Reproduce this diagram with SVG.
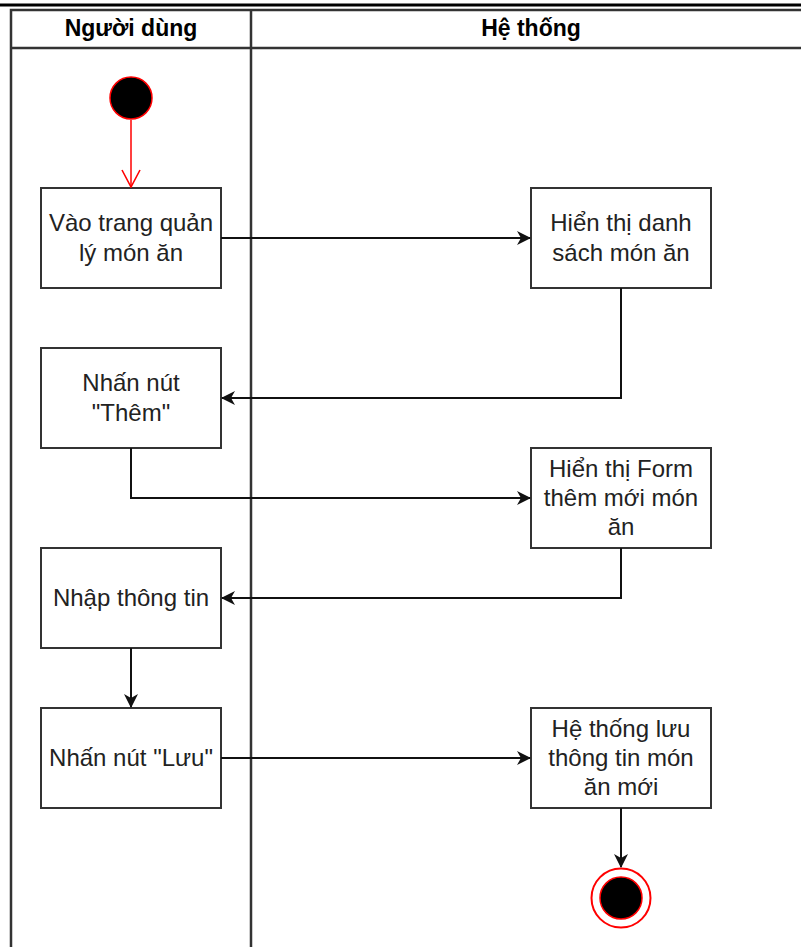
<svg xmlns="http://www.w3.org/2000/svg" width="801" height="947" viewBox="0 0 801 947">
<defs>
<style>
.lane{fill:none;stroke:#333;stroke-width:2.5}
.hdr{font-family:"Liberation Sans",Arial,sans-serif;font-size:23px;font-weight:bold;fill:#000;text-anchor:middle}
.box{fill:#fff;stroke:#333;stroke-width:2}
.lbl{font-family:"Liberation Sans",Arial,sans-serif;font-size:24px;fill:#222;text-anchor:middle}
.edge{fill:none;stroke:#111;stroke-width:2}
</style>
<marker id="arr" viewBox="0 0 14 14" refX="13" refY="7" markerWidth="14" markerHeight="14" markerUnits="userSpaceOnUse" orient="auto">
<path d="M0,0 L14,7 L0,14 L4,7 Z" fill="#111"/>
</marker>
<marker id="open" viewBox="0 0 20 20" refX="19" refY="10" markerWidth="20" markerHeight="20" markerUnits="userSpaceOnUse" orient="auto">
<path d="M2,1 L19,10 L2,19" fill="none" stroke="#f00" stroke-width="1.6"/>
</marker>
</defs>
<rect width="801" height="947" fill="#fff"/>
<line x1="0" y1="5" x2="801" y2="5" stroke="#000" stroke-width="3"/>
<g id="swimlanes">
<path class="lane" d="M801,10 H11 V947 M11,48 H801 M251,10 V947"/>
<text class="hdr" x="131" y="36">Người dùng</text>
<text class="hdr" x="531" y="36">Hệ thống</text>
</g>
<g id="start">
<circle cx="131" cy="98" r="21" fill="#000" stroke="#f00" stroke-width="1.5"/>
</g>
<g id="n1">
<rect class="box" x="41" y="188" width="180" height="100"/>
<text class="lbl" x="131" y="231">Vào trang quản</text>
<text class="lbl" x="131" y="261">lý món ăn</text>
</g>
<g id="n2">
<rect class="box" x="531" y="188" width="180" height="100"/>
<text class="lbl" x="621" y="231">Hiển thị danh</text>
<text class="lbl" x="621" y="261">sách món ăn</text>
</g>
<g id="n3">
<rect class="box" x="41" y="348" width="180" height="100"/>
<text class="lbl" x="131" y="391">Nhấn nút</text>
<text class="lbl" x="131" y="421">"Thêm"</text>
</g>
<g id="n4">
<rect class="box" x="531" y="448" width="180" height="100"/>
<text class="lbl" x="621" y="477">Hiển thị Form</text>
<text class="lbl" x="621" y="506">thêm mới món</text>
<text class="lbl" x="621" y="535">ăn</text>
</g>
<g id="n5">
<rect class="box" x="41" y="548" width="180" height="100"/>
<text class="lbl" x="131" y="606">Nhập thông tin</text>
</g>
<g id="n6">
<rect class="box" x="41" y="708" width="180" height="100"/>
<text class="lbl" x="131" y="766">Nhấn nút "Lưu"</text>
</g>
<g id="n7">
<rect class="box" x="531" y="708" width="180" height="100"/>
<text class="lbl" x="621" y="737">Hệ thống lưu</text>
<text class="lbl" x="621" y="766">thông tin món</text>
<text class="lbl" x="621" y="795">ăn mới</text>
</g>
<g id="end">
<circle cx="621" cy="898" r="29.5" fill="#fff" stroke="#f00" stroke-width="2"/>
<circle cx="621" cy="898" r="21" fill="#000" stroke="#f00" stroke-width="1.5"/>
</g>
<g id="connectors">
<line x1="131" y1="120" x2="131" y2="187" fill="none" stroke="#f00" stroke-width="1.5" marker-end="url(#open)"/>
<path class="edge" d="M221,238 H530" marker-end="url(#arr)"/>
<path class="edge" d="M621,288 V398 H222" marker-end="url(#arr)"/>
<path class="edge" d="M131,448 V498 H530" marker-end="url(#arr)"/>
<path class="edge" d="M621,548 V598 H222" marker-end="url(#arr)"/>
<path class="edge" d="M131,648 V707" marker-end="url(#arr)"/>
<path class="edge" d="M221,758 H530" marker-end="url(#arr)"/>
<path class="edge" d="M621,808 V867" marker-end="url(#arr)"/>
</g>
</svg>
